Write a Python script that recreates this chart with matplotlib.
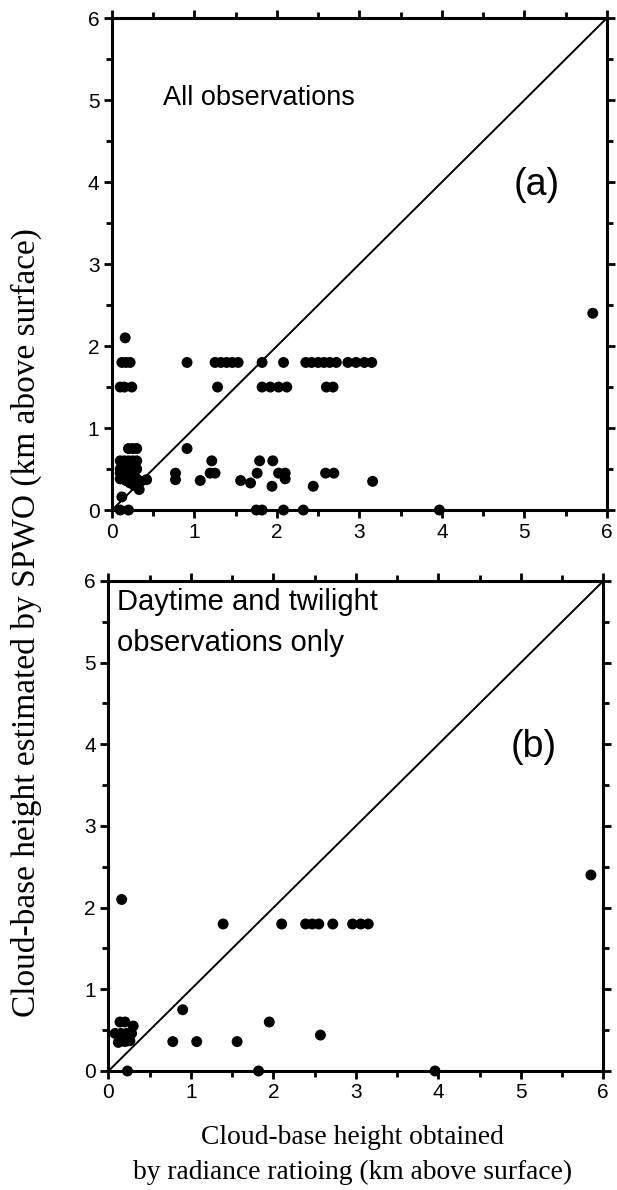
import numpy as np
import matplotlib
matplotlib.use('Agg')
from matplotlib import pyplot as plt
from matplotlib.ticker import MultipleLocator

# panel (a): all observations (x = radiance ratioing, y = SPWO)
a_x = [0.12, 0.17, 0.22, 0.91, 1.25, 1.32, 1.39, 1.46, 1.53, 1.82, 2.08,
       2.35, 2.42, 2.5, 2.57, 2.64, 2.72, 2.86, 2.96, 3.06, 3.15,
       0.1, 0.15, 0.24, 1.28, 1.82, 1.92, 2.02, 2.12, 2.6, 2.68,
       0.16, 5.83,
       0.2, 0.25, 0.3, 0.1, 0.15, 0.2, 0.25, 0.3, 0.1, 0.2, 0.3,
       0.1, 0.15, 0.2, 0.25, 0.1, 0.17, 0.22, 0.27, 0.3, 0.35, 0.42,
       0.2, 0.25, 0.33, 0.12, 0.1, 0.2,
       0.91, 0.77, 0.77, 1.07, 1.21, 1.19, 1.25, 1.56, 1.68, 1.76, 1.79,
       1.95, 1.94, 2.02, 2.1, 2.1, 2.44, 2.59, 2.69, 3.16,
       1.75, 1.82, 2.08, 2.32, 3.97]
a_y = [1.8, 1.8, 1.8, 1.8, 1.8, 1.8, 1.8, 1.8, 1.8, 1.8, 1.8,
       1.8, 1.8, 1.8, 1.8, 1.8, 1.8, 1.8, 1.8, 1.8, 1.8,
       1.5, 1.5, 1.5, 1.5, 1.5, 1.5, 1.5, 1.5, 1.5, 1.5,
       2.1, 2.4,
       0.75, 0.75, 0.75, 0.6, 0.6, 0.6, 0.6, 0.6, 0.5, 0.5, 0.5,
       0.45, 0.45, 0.45, 0.45, 0.38, 0.36, 0.33, 0.3, 0.38, 0.35, 0.37,
       0.4, 0.4, 0.25, 0.16, 0.0, 0.0,
       0.75, 0.45, 0.37, 0.36, 0.6, 0.45, 0.45, 0.36, 0.33, 0.45, 0.6,
       0.6, 0.29, 0.45, 0.45, 0.38, 0.29, 0.45, 0.45, 0.35,
       0.0, 0.0, 0.0, 0.0, 0.0]

# panel (b): daytime and twilight only
b_x = [0.16, 1.39, 2.1, 2.39, 2.47, 2.55, 2.72, 2.96, 3.06, 3.15, 5.85,
       0.14, 0.2, 0.3, 0.08, 0.15, 0.22, 0.28, 0.12, 0.26, 0.18, 0.2,
       0.9, 0.78, 1.07, 1.56, 1.95, 2.57, 0.23, 1.82, 3.96]
b_y = [2.1, 1.8, 1.8, 1.8, 1.8, 1.8, 1.8, 1.8, 1.8, 1.8, 2.4,
       0.6, 0.6, 0.55, 0.46, 0.46, 0.46, 0.46, 0.35, 0.37, 0.42, 0.36,
       0.75, 0.36, 0.36, 0.36, 0.6, 0.44, 0.0, 0.0, 0.0]

panels = [
    ([0.1815, 0.5714, 0.802, 0.4134], a_x, a_y, ['All observations'], '(a)'),
    ([0.1758, 0.1000, 0.802, 0.4118], b_x, b_y,
     ['Daytime and twilight', 'observations only'], '(b)'),
]

fig = plt.figure(figsize=(6.17, 11.9), dpi=100)
sans = 'Liberation Sans'
serif = 'Liberation Serif'

for rect, xs, ys, note, tag in panels:
    ax = fig.add_axes(rect)
    ax.plot([0, 6], [0, 6], color='black', lw=1.4, zorder=2)
    ax.scatter(xs, ys, s=62, color='black', edgecolors='none', zorder=3,
               clip_on=False)
    ax.set_xlim(0, 6)
    ax.set_ylim(0, 6)
    for side in ax.spines.values():
        side.set_linewidth(2.2)
    ax.xaxis.set_major_locator(MultipleLocator(1))
    ax.yaxis.set_major_locator(MultipleLocator(1))
    ax.xaxis.set_minor_locator(MultipleLocator(0.5))
    ax.yaxis.set_minor_locator(MultipleLocator(0.5))
    ax.tick_params(which='both', direction='out', top=True, right=True,
                   width=2, labelsize=15, pad=3)
    ax.tick_params(which='major', length=6)
    ax.tick_params(which='minor', length=4)
    for lab in ax.get_xticklabels() + ax.get_yticklabels():
        lab.set_fontfamily(sans)
    if len(note) == 1:
        ax.text(0.62, 5.02, note[0], fontsize=19.5, family=sans, va='center')
    else:
        ax.text(0.1, 5.74, note[0], fontsize=21, family=sans, va='center')
        ax.text(0.1, 5.24, note[1], fontsize=21, family=sans, va='center')
    ax.text(5.15, 3.97, tag, fontsize=27, family=sans, ha='center',
            va='center')

fig.text(0.042, 0.477, 'Cloud-base height estimated by SPWO (km above surface)',
         rotation=90, ha='center', va='center', fontsize=24, family=serif)
fig.text(0.571, 0.0387, 'Cloud-base height obtained', ha='center',
         va='baseline', fontsize=19.8, family=serif)
fig.text(0.571, 0.0092, 'by radiance ratioing (km above surface)', ha='center',
         va='baseline', fontsize=19.8, family=serif)

fig.savefig('out.png', dpi=100)
